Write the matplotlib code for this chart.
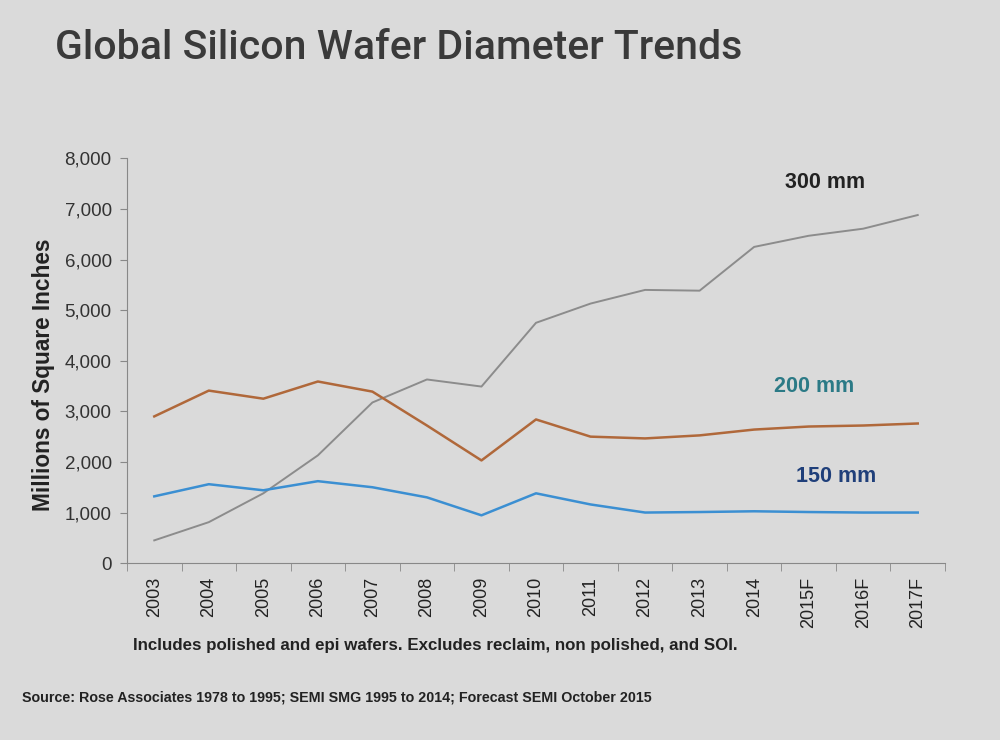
import matplotlib.pyplot as plt

# values (millions of square inches)
years = ["2003", "2004", "2005", "2006", "2007", "2008", "2009", "2010",
         "2011", "2012", "2013", "2014", "2015F", "2016F", "2017F"]
mm300 = [450, 810, 1380, 2130, 3175, 3630, 3490, 4750, 5130, 5400, 5385, 6250, 6470, 6610, 6880]
mm200 = [2900, 3410, 3250, 3590, 3390, 2720, 2030, 2840, 2500, 2465, 2525, 2640, 2700, 2720, 2760]
mm150 = [1320, 1560, 1440, 1620, 1500, 1300, 945, 1380, 1160, 1000, 1010, 1025, 1010, 1000, 1000]

bg = '#dadada'
plt.rcParams['font.family'] = ['Liberation Sans', 'DejaVu Sans']

fig = plt.figure(figsize=(10, 7.4), dpi=100, facecolor=bg)
ax = fig.add_axes([0.127, 0.239, 0.818, 0.547], facecolor=bg)

x = list(range(len(years)))
ax.plot(x, mm300, color='#8c8c8c', lw=1.4)
ax.plot(x, mm200, color='#b0683a', lw=1.8)
ax.plot(x, mm150, color='#3b8fd2', lw=1.8)

# series labels
ax.text(12.3, 7530, "300 mm", color='#222222', fontsize=15.5, fontweight='bold', ha='center', va='center')
ax.text(12.1, 3490, "200 mm", color='#2b7a86', fontsize=15.5, fontweight='bold', ha='center', va='center')
ax.text(12.5, 1715, "150 mm", color='#1f3f7a', fontsize=15.5, fontweight='bold', ha='center', va='center')

ax.set_xlim(-0.5, len(years) - 0.5)
ax.set_ylim(0, 8000)
ax.set_yticks(range(0, 8001, 1000))
ax.set_yticklabels([f"{v:,}" for v in range(0, 8001, 1000)], fontsize=13.5, color='#333333')
ax.set_xticks(x)
ax.set_xticklabels(years, rotation=90, fontsize=13, color='#222222')
ax.tick_params(axis='x', which='major', length=0, pad=10)
ax.set_xticks([i - 0.5 for i in range(len(years) + 1)], minor=True)
ax.tick_params(axis='x', which='minor', length=6, color='#888888')
ax.tick_params(axis='y', length=5, color='#888888', pad=6)

for side in ['top', 'right']:
    ax.spines[side].set_visible(False)
ax.spines['left'].set_color('#888888')
ax.spines['bottom'].set_color('#888888')

ax.set_ylabel("Millions of Square Inches", fontsize=16.3, fontweight='bold', color='#222222')
ax.yaxis.set_label_coords(-0.088, 0.465)

fig.text(0.055, 0.935, "Global Silicon Wafer Diameter Trends", fontsize=29.5, fontweight='medium',
         family='Roboto', color='#3a3a3a', va='center')
fig.text(0.133, 0.128, "Includes polished and epi wafers. Excludes reclaim, non polished, and SOI.",
         fontsize=12.2, fontweight='bold', color='#222222', va='center')
fig.text(0.022, 0.057, "Source: Rose Associates 1978 to 1995; SEMI SMG 1995 to 2014; Forecast SEMI October 2015",
         fontsize=10.3, fontweight='bold', color='#222222', va='center')

fig.savefig("out.png", dpi=100, facecolor=bg)
